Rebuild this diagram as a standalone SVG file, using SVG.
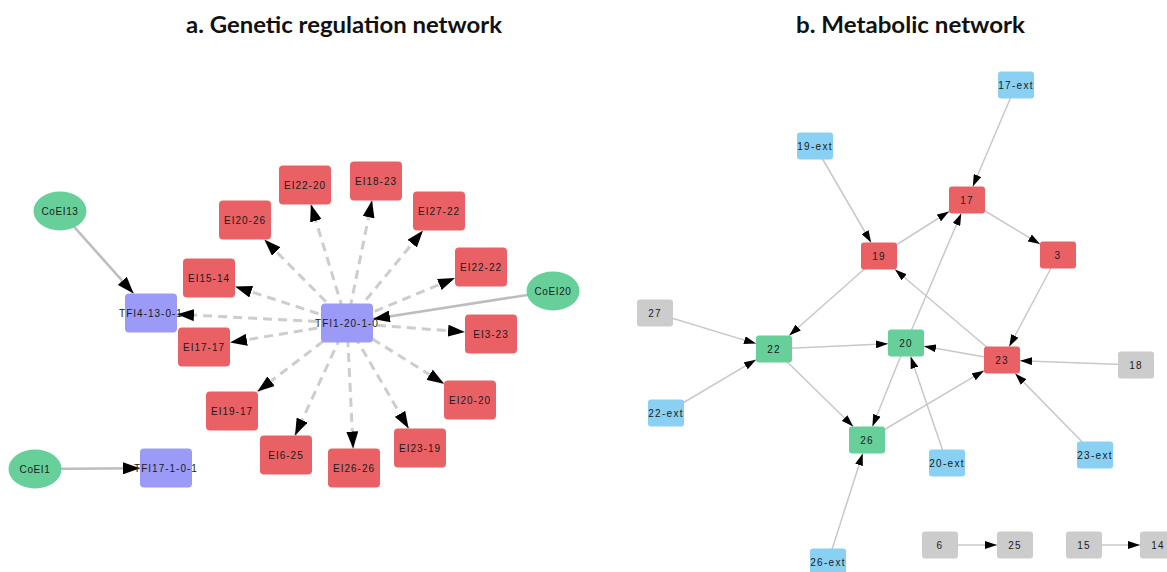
<svg xmlns="http://www.w3.org/2000/svg" width="1167" height="572" viewBox="0 0 1167 572">
  <defs>
    <marker id="headL" markerUnits="userSpaceOnUse" markerWidth="17" markerHeight="12" refX="17" refY="6" orient="auto">
      <path d="M0,0 L17,6 L0,12 Z" fill="#000"/>
    </marker>
    <marker id="headR" markerUnits="userSpaceOnUse" markerWidth="12" markerHeight="8" refX="12" refY="4" orient="auto">
      <path d="M0,0 L12,4 L0,8 Z" fill="#000"/>
    </marker>
    <style>
      .title { font-family: Lato, "Open Sans", "Liberation Sans", sans-serif; font-weight: bold; font-size: 22px; fill: #111; }
      .lbl { font-family: "Liberation Sans", Arial, sans-serif; font-size: 10px; fill: #1a1a1a; text-anchor: middle; letter-spacing: 1px; }
      .lblR { font-family: "Liberation Sans", Arial, sans-serif; font-size: 10px; fill: #1a1a1a; text-anchor: middle; letter-spacing: 1.3px; }
      .dash { stroke: #cdcdcd; stroke-width: 3; stroke-dasharray: 9 6; fill: none; marker-end: url(#headL); }
      .solidL { stroke: #bdbdbd; stroke-width: 2.6; fill: none; marker-end: url(#headL); }
      .edgeR { stroke: #c8c8c8; stroke-width: 1.5; fill: none; marker-end: url(#headR); }
      .red { fill: #e96165; }
      .green { fill: #66cf9a; }
      .blue { fill: #89d0f3; }
      .purple { fill: #9b9bf7; }
      .gray { fill: #cccccc; }
    </style>
  </defs>

  <rect width="1167" height="572" fill="#ffffff"/>

  <text class="title" x="186" y="33" textLength="316" lengthAdjust="spacingAndGlyphs">a. Genetic regulation network</text>
  <text class="title" x="796" y="33" textLength="229" lengthAdjust="spacingAndGlyphs">b. Metabolic network</text>

  <!-- genetic regulation network: edges -->
  <g id="edges-genetic">
    <line class="dash" x1="347" y1="323" x2="264.3" y2="239.5"/>
    <line class="dash" x1="347" y1="323" x2="310.9" y2="204.5"/>
    <line class="dash" x1="347" y1="323" x2="372" y2="200.5"/>
    <line class="dash" x1="347" y1="323" x2="423" y2="230.5"/>
    <line class="dash" x1="347" y1="323" x2="455" y2="277.9"/>
    <line class="dash" x1="347" y1="323" x2="465" y2="332"/>
    <line class="dash" x1="347" y1="323" x2="444" y2="383.7"/>
    <line class="dash" x1="347" y1="323" x2="408.6" y2="428.5"/>
    <line class="dash" x1="347" y1="323" x2="353.1" y2="448.5"/>
    <line class="dash" x1="347" y1="323" x2="295" y2="435.5"/>
    <line class="dash" x1="347" y1="323" x2="257.5" y2="391.5"/>
    <line class="dash" x1="347" y1="323" x2="230" y2="342.6"/>
    <line class="dash" x1="347" y1="323" x2="235" y2="286.5"/>
    <line class="dash" x1="347" y1="323" x2="177" y2="314.3"/>
    <line class="solidL" x1="553" y1="291" x2="373" y2="319"/>
    <line class="solidL" x1="60" y1="211" x2="133.6" y2="293.5"/>
    <line class="solidL" x1="35" y1="469" x2="140" y2="468.2"/>
  </g>

  <!-- genetic regulation network: nodes -->
  <g id="n-TFI1-20-1-0"><rect class="purple" x="321" y="303.5" width="52" height="39" rx="4"/><text class="lbl" x="347" y="326.5">TFI1-20-1-0</text></g>
  <g id="n-TFI4-13-0-1"><rect class="purple" x="125" y="293.5" width="52" height="39" rx="4"/><text class="lbl" x="151" y="316.5">TFI4-13-0-1</text></g>
  <g id="n-TFI17-1-0-1"><rect class="purple" x="140" y="448.5" width="52" height="39" rx="4"/><text class="lbl" x="166" y="471.5">TFI17-1-0-1</text></g>
  <g id="n-CoEI13"><ellipse class="green" cx="60" cy="211" rx="26.5" ry="19.5"/><text class="lbl" x="60" y="214.5" style="letter-spacing:0.6px">CoEI13</text></g>
  <g id="n-CoEI20"><ellipse class="green" cx="553" cy="291" rx="26.5" ry="19.5"/><text class="lbl" x="553" y="294.5" style="letter-spacing:0.6px">CoEI20</text></g>
  <g id="n-CoEI1"><ellipse class="green" cx="35" cy="469" rx="26.5" ry="19.5"/><text class="lbl" x="35" y="472.5" style="letter-spacing:0.6px">CoEI1</text></g>
  <g id="n-EI20-26"><rect class="red" x="219" y="200.5" width="52" height="39" rx="4"/><text class="lbl" x="245" y="223.5">EI20-26</text></g>
  <g id="n-EI22-20"><rect class="red" x="279" y="165.5" width="52" height="39" rx="4"/><text class="lbl" x="305" y="188.5">EI22-20</text></g>
  <g id="n-EI18-23"><rect class="red" x="350" y="161.5" width="52" height="39" rx="4"/><text class="lbl" x="376" y="184.5">EI18-23</text></g>
  <g id="n-EI27-22"><rect class="red" x="413" y="191.5" width="52" height="39" rx="4"/><text class="lbl" x="439" y="214.5">EI27-22</text></g>
  <g id="n-EI22-22"><rect class="red" x="455" y="247.5" width="52" height="39" rx="4"/><text class="lbl" x="481" y="270.5">EI22-22</text></g>
  <g id="n-EI3-23"><rect class="red" x="465" y="314.5" width="52" height="39" rx="4"/><text class="lbl" x="491" y="337.5">EI3-23</text></g>
  <g id="n-EI20-20"><rect class="red" x="444" y="380.5" width="52" height="39" rx="4"/><text class="lbl" x="470" y="403.5">EI20-20</text></g>
  <g id="n-EI23-19"><rect class="red" x="394" y="428.5" width="52" height="39" rx="4"/><text class="lbl" x="420" y="451.5">EI23-19</text></g>
  <g id="n-EI26-26"><rect class="red" x="328" y="448.5" width="52" height="39" rx="4"/><text class="lbl" x="354" y="471.5">EI26-26</text></g>
  <g id="n-EI6-25"><rect class="red" x="260" y="435.5" width="52" height="39" rx="4"/><text class="lbl" x="286" y="458.5">EI6-25</text></g>
  <g id="n-EI19-17"><rect class="red" x="206" y="391.5" width="52" height="39" rx="4"/><text class="lbl" x="232" y="414.5">EI19-17</text></g>
  <g id="n-EI17-17"><rect class="red" x="178" y="327.5" width="52" height="39" rx="4"/><text class="lbl" x="204" y="350.5">EI17-17</text></g>
  <g id="n-EI15-14"><rect class="red" x="183" y="258.5" width="52" height="39" rx="4"/><text class="lbl" x="209" y="281.5">EI15-14</text></g>

  <!-- metabolic network: edges -->
  <g id="edges-metabolic">
    <line class="edgeR" x1="1016" y1="85" x2="972.8" y2="186.5"/>
    <line class="edgeR" x1="815" y1="146" x2="871.1" y2="242.5"/>
    <line class="edgeR" x1="879" y1="256" x2="949" y2="211.5"/>
    <line class="edgeR" x1="967" y1="200" x2="1040" y2="244.1"/>
    <line class="edgeR" x1="1058" y1="255" x2="1009.2" y2="346.5"/>
    <line class="edgeR" x1="1002" y1="360" x2="895" y2="269.5"/>
    <line class="edgeR" x1="879" y1="256" x2="789.2" y2="335.5"/>
    <line class="edgeR" x1="655" y1="313" x2="756" y2="343.6"/>
    <line class="edgeR" x1="666" y1="413" x2="756" y2="359.7"/>
    <line class="edgeR" x1="774" y1="349" x2="888" y2="343.8"/>
    <line class="edgeR" x1="774" y1="349" x2="853.2" y2="426.5"/>
    <line class="edgeR" x1="906" y1="343" x2="872.4" y2="426.5"/>
    <line class="edgeR" x1="906" y1="343" x2="961.2" y2="213.5"/>
    <line class="edgeR" x1="1002" y1="360" x2="924" y2="346.2"/>
    <line class="edgeR" x1="1136" y1="365" x2="1020" y2="360.7"/>
    <line class="edgeR" x1="1095" y1="455" x2="1015.2" y2="373.5"/>
    <line class="edgeR" x1="947" y1="463" x2="910.6" y2="356.5"/>
    <line class="edgeR" x1="867" y1="440" x2="984" y2="370.7"/>
    <line class="edgeR" x1="828" y1="562" x2="862.7" y2="453.5"/>
    <line class="edgeR" x1="958" y1="545" x2="997" y2="545"/>
    <line class="edgeR" x1="1102" y1="545" x2="1140" y2="545"/>
  </g>

  <!-- metabolic network: nodes -->
  <g id="m-17-ext"><rect class="blue" x="998" y="71.5" width="36" height="27" rx="3"/><text class="lblR" x="1016" y="88.5">17-ext</text></g>
  <g id="m-19-ext"><rect class="blue" x="797" y="132.5" width="36" height="27" rx="3"/><text class="lblR" x="815" y="149.5">19-ext</text></g>
  <g id="m-17"><rect class="red" x="949" y="186.5" width="36" height="27" rx="3"/><text class="lblR" x="967" y="203.5">17</text></g>
  <g id="m-19"><rect class="red" x="861" y="242.5" width="36" height="27" rx="3"/><text class="lblR" x="879" y="259.5">19</text></g>
  <g id="m-3"><rect class="red" x="1040" y="241.5" width="36" height="27" rx="3"/><text class="lblR" x="1058" y="258.5">3</text></g>
  <g id="m-27"><rect class="gray" x="637" y="299.5" width="36" height="27" rx="3"/><text class="lblR" x="655" y="316.5">27</text></g>
  <g id="m-22"><rect class="green" x="756" y="335.5" width="36" height="27" rx="3"/><text class="lblR" x="774" y="352.5">22</text></g>
  <g id="m-20"><rect class="green" x="888" y="329.5" width="36" height="27" rx="3"/><text class="lblR" x="906" y="346.5">20</text></g>
  <g id="m-23"><rect class="red" x="984" y="346.5" width="36" height="27" rx="3"/><text class="lblR" x="1002" y="363.5">23</text></g>
  <g id="m-18"><rect class="gray" x="1118" y="351.5" width="36" height="27" rx="3"/><text class="lblR" x="1136" y="368.5">18</text></g>
  <g id="m-22-ext"><rect class="blue" x="648" y="399.5" width="36" height="27" rx="3"/><text class="lblR" x="666" y="416.5">22-ext</text></g>
  <g id="m-26"><rect class="green" x="849" y="426.5" width="36" height="27" rx="3"/><text class="lblR" x="867" y="443.5">26</text></g>
  <g id="m-20-ext"><rect class="blue" x="929" y="449.5" width="36" height="27" rx="3"/><text class="lblR" x="947" y="466.5">20-ext</text></g>
  <g id="m-23-ext"><rect class="blue" x="1077" y="441.5" width="36" height="27" rx="3"/><text class="lblR" x="1095" y="458.5">23-ext</text></g>
  <g id="m-26-ext"><rect class="blue" x="810" y="548.5" width="36" height="27" rx="3"/><text class="lblR" x="828" y="565.5">26-ext</text></g>
  <g id="m-6"><rect class="gray" x="922" y="531.5" width="36" height="27" rx="3"/><text class="lblR" x="940" y="548.5">6</text></g>
  <g id="m-25"><rect class="gray" x="997" y="531.5" width="36" height="27" rx="3"/><text class="lblR" x="1015" y="548.5">25</text></g>
  <g id="m-15"><rect class="gray" x="1066" y="531.5" width="36" height="27" rx="3"/><text class="lblR" x="1084" y="548.5">15</text></g>
  <g id="m-14"><rect class="gray" x="1140" y="531.5" width="36" height="27" rx="3"/><text class="lblR" x="1158" y="548.5">14</text></g>
</svg>
